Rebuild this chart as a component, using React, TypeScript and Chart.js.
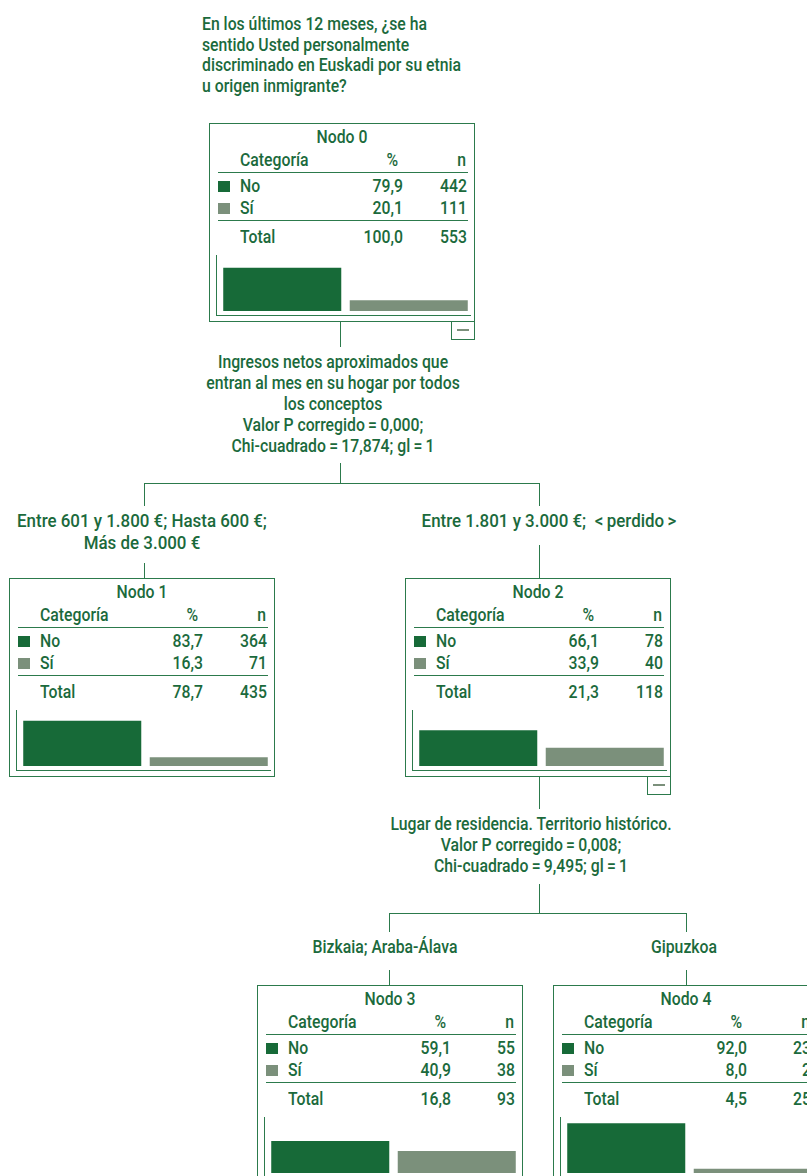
import React, { useEffect, useRef } from 'react';
import { Chart, registerables } from 'chart.js';

Chart.register(...registerables);

// ---------- data ----------
const categories = ['No', 'Sí'];
const nodeNames = ['Nodo 0', 'Nodo 1', 'Nodo 2', 'Nodo 3', 'Nodo 4'];
const pctNo = [79.9, 83.7, 66.1, 59.1, 92.0];
const pctSi = [20.1, 16.3, 33.9, 40.9, 8.0];
const nNo = [442, 364, 78, 55, 23];
const nSi = [111, 71, 40, 38, 2];
const pctTotal = [100.0, 78.7, 21.3, 16.8, 4.5];
const nTotal = [553, 435, 118, 93, 25];

const titleLines = [
  'En los últimos 12 meses, ¿se ha',
  'sentido Usted personalmente',
  'discriminado en Euskadi por su etnia',
  'u origen inmigrante?',
];
const split1Lines = [
  'Ingresos netos aproximados que',
  'entran al mes en su hogar por todos',
  'los conceptos',
  'Valor P corregido\u2009=\u20090,000;',
  'Chi-cuadrado\u2009=\u200917,874; gl\u2009=\u20091',
];
const branch1Left = ['Entre 601 y 1.800 €; Hasta 600 €;', 'Más de 3.000 €'];
const branch1Right = ['Entre 1.801 y 3.000 €;\u2002<\u2009perdido\u2009>'];
const split2Lines = [
  'Lugar de residencia. Territorio histórico.',
  'Valor P corregido\u2009=\u20090,008;',
  'Chi-cuadrado\u2009=\u20099,495; gl\u2009=\u20091',
];
const branch2Left = ['Bizkaia; Araba-Álava'];
const branch2Right = ['Gipuzkoa'];

// ---------- styles ----------
const GREEN = '#1b6a3c';
const LINE = '#2c7a4c';
const BAR_NO = '#176a38';
const BAR_SI = '#7b907b';
const FONT = "Roboto, 'Liberation Sans', sans-serif";
const FS = 19;
const SX = 0.83;

const fmt = (v: number) => v.toFixed(1).replace('.', ',');

type Align = 'left' | 'center' | 'right';
function Txt({ x, y, align = 'left', children, size = FS, sx = SX }: { x: number; y: number; align?: Align; children: any; size?: number; sx?: number }) {
  const top = y - size * 0.842;
  const style: any = {
    position: 'absolute',
    top,
    width: 600,
    fontSize: size,
    fontWeight: 500,
    lineHeight: size + 'px',
    whiteSpace: 'nowrap',
    color: GREEN,
    fontFamily: FONT,
    transform: `scaleX(${sx})`,
    transformOrigin: align,
    textAlign: align,
  };
  if (align === 'left') style.left = x;
  else if (align === 'center') style.left = x - 300;
  else style.left = x - 600;
  return <div style={style}>{children}</div>;
}

function HLine({ x1, x2, y, color = LINE }: { x1: number; x2: number; y: number; color?: string }) {
  return <div style={{ position: 'absolute', left: x1, top: y, width: x2 - x1 + 1, height: 1, background: color }} />;
}
function VLine({ x, y1, y2, color = LINE }: { x: number; y1: number; y2: number; color?: string }) {
  return <div style={{ position: 'absolute', left: x, top: y1, width: 1, height: y2 - y1 + 1, background: color }} />;
}

function NodeBars({ idx }: { idx: number }) {
  const ref = useRef<HTMLCanvasElement | null>(null);
  useEffect(() => {
    if (!ref.current) return;
    const chart = new Chart(ref.current, {
      type: 'bar',
      data: {
        labels: categories,
        datasets: [
          {
            data: [pctNo[idx], pctSi[idx]],
            backgroundColor: [BAR_NO, BAR_SI],
            borderWidth: 0,
            barPercentage: 0.933,
            categoryPercentage: 1,
          },
        ],
      },
      options: {
        animation: false,
        responsive: false,
        events: [],
        layout: { padding: 0 },
        plugins: { legend: { display: false }, tooltip: { enabled: false } },
        scales: {
          x: { display: false },
          y: { display: false, min: 0, max: 100 },
        },
      },
    });
    return () => chart.destroy();
  }, [idx]);
  return (
    <canvas
      ref={ref}
      width={253}
      height={54}
      style={{ position: 'absolute', left: 10, top: 134, width: 253, height: 54 }}
    />
  );
}

function NodeBox({ idx, left, top, minus }: { idx: number; left: number; top: number; minus?: boolean }) {
  const W = 266;
  const H = 199;
  return (
    <>
      <div style={{ position: 'absolute', left, top, width: W, height: H, background: '#fff' }}>
        <div
          style={{
            position: 'absolute',
            left: 0,
            top: 0,
            width: W,
            height: H,
            boxSizing: 'border-box',
            border: `1px solid ${LINE}`,
          }}
        />
        <Txt x={W / 2} y={20.3} align="center">{nodeNames[idx]}</Txt>
        <Txt x={31} y={42.7}>Categoría</Txt>
        <Txt x={189} y={42.7} align="right">%</Txt>
        <Txt x={257} y={42.7} align="right">n</Txt>
        <HLine x1={9} x2={258} y={49} />
        <div style={{ position: 'absolute', left: 9, top: 58, width: 12, height: 11, background: BAR_NO }} />
        <Txt x={31} y={68.7}>{categories[0]}</Txt>
        <Txt x={194} y={68.7} align="right">{fmt(pctNo[idx])}</Txt>
        <Txt x={258} y={68.7} align="right">{nNo[idx]}</Txt>
        <div style={{ position: 'absolute', left: 9, top: 80, width: 12, height: 11, background: BAR_SI }} />
        <Txt x={31} y={91.3}>{categories[1]}</Txt>
        <Txt x={194} y={91.3} align="right">{fmt(pctSi[idx])}</Txt>
        <Txt x={258} y={91.3} align="right">{nSi[idx]}</Txt>
        <HLine x1={9} x2={258} y={97} />
        <Txt x={31} y={120.3}>Total</Txt>
        <Txt x={194} y={120.3} align="right">{fmt(pctTotal[idx])}</Txt>
        <Txt x={258} y={120.3} align="right">{nTotal[idx]}</Txt>
        <VLine x={7} y1={132} y2={192} />
        <HLine x1={7} x2={261} y={192} />
        <NodeBars idx={idx} />
      </div>
      {minus && (
        <div
          style={{
            position: 'absolute',
            left: left + W - 24,
            top: top + H - 1,
            width: 24,
            height: 19,
            boxSizing: 'border-box',
            border: `1px solid ${LINE}`,
            background: '#fff',
          }}
        >
          <div style={{ position: 'absolute', left: 5, top: 7, width: 12, height: 2, background: BAR_SI }} />
        </div>
      )}
    </>
  );
}

function Lines({ lines, x, y0, step, align = 'center', sx = SX }: { lines: string[]; x: number; y0: number; step: number; align?: Align; sx?: number }) {
  return (
    <>
      {lines.map((l, i) => (
        <Txt key={i} x={x} y={y0 + i * step} align={align} sx={sx}>
          {l}
        </Txt>
      ))}
    </>
  );
}

export default function App() {
  return (
    <div
      style={{
        position: 'absolute',
        left: 0,
        top: 0,
        width: 807,
        height: 1176,
        overflow: 'hidden',
        background: '#fff',
        fontFamily: FONT,
      }}
    >
      <Lines lines={titleLines} x={201.5} y0={30} step={20.7} align="left" />

      {/* connectors level 0 -> 1 */}
      <VLine x={340} y1={322} y2={346} />
      <Lines lines={split1Lines} x={332.5} y0={367.7} step={21.15} />
      <VLine x={340} y1={463} y2={483} />
      <HLine x1={144} x2={539} y={483} />
      <VLine x={144} y1={483} y2={505} />
      <VLine x={539} y1={483} y2={505} />
      <Lines lines={branch1Left} x={141.5} y0={526.6} step={22.4} sx={0.89} />
      <Lines lines={branch1Right} x={548.8} y0={527.4} step={22} sx={0.89} />
      <VLine x={144} y1={563} y2={578} />
      <VLine x={539} y1={545} y2={578} />

      {/* connectors level 1 -> 2 */}
      <VLine x={539} y1={777} y2={808} />
      <Lines lines={split2Lines} x={531} y0={830} step={20.9} />
      <VLine x={539} y1={884} y2={913} />
      <HLine x1={389} x2={686} y={913} />
      <VLine x={389} y1={913} y2={931} />
      <VLine x={686} y1={913} y2={931} />
      <Lines lines={branch2Left} x={385} y0={953.3} step={21} />
      <Lines lines={branch2Right} x={684} y0={953.3} step={21} />
      <VLine x={389} y1={970} y2={985} />
      <VLine x={686} y1={970} y2={985} />

      <NodeBox idx={0} left={209} top={123} minus />
      <NodeBox idx={1} left={9} top={578} />
      <NodeBox idx={2} left={405} top={578} minus />
      <NodeBox idx={3} left={257} top={985} />
      <NodeBox idx={4} left={553} top={985} />
    </div>
  );
}
